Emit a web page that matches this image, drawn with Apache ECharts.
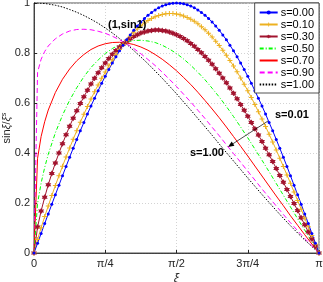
<!DOCTYPE html>
<html><head><meta charset="utf-8">
<script src="https://cdn.jsdelivr.net/npm/echarts@6/dist/echarts.min.js"></script>
<style>html,body{margin:0;padding:0;background:#fff}#c{width:323px;height:282px}</style>
</head><body><div id="c"></div>
<script>
const xTickLabels = ['0','π/4','π/2','3π/4','π'];
const yTickLabels = ['0','0.2','0.4','0.6','0.8','1'];
const seriesNames = ['s=0.00','s=0.10','s=0.30','s=0.50','s=0.70','s=0.90','s=1.00'];

const xiFine = [0,0.0393,0.0785,0.1178,0.1571,0.1963,0.2356,0.2749,0.3142,0.3534,0.3927,0.4320,0.4712,0.5105,0.5498,0.5890,0.6283,0.6676,0.7069,0.7461,0.7854,0.8247,0.8639,0.9032,0.9425,0.9817,1.0210,1.0603,1.0996,1.1388,1.1781,1.2174,1.2566,1.2959,1.3352,1.3744,1.4137,1.4530,1.4923,1.5315,1.5708,1.6101,1.6493,1.6886,1.7279,1.7671,1.8064,1.8457,1.8850,1.9242,1.9635,2.0028,2.0420,2.0813,2.1206,2.1598,2.1991,2.2384,2.2777,2.3169,2.3562,2.3955,2.4347,2.4740,2.5133,2.5525,2.5918,2.6311,2.6704,2.7096,2.7489,2.7882,2.8274,2.8667,2.9060,2.9452,2.9845,3.0238,3.0631,3.1023,3.1416];
const xiCoarse = [0,0.0393,0.0785,0.1178,0.1571,0.2356,0.3142,0.3927,0.4712,0.5498,0.6283,0.7069,0.7854,0.8639,0.9425,1.0210,1.0996,1.1781,1.2566,1.3352,1.4137,1.4923,1.5708,1.6493,1.7279,1.8064,1.8850,1.9635,2.0420,2.1206,2.1991,2.2777,2.3562,2.4347,2.5133,2.5918,2.6704,2.7489,2.8274,2.9060,2.9845,3.0631,3.1416];

const yS000 = [0,0.039,0.078,0.118,0.156,0.195,0.233,0.271,0.309,0.346,0.383,0.419,0.454,0.489,0.522,0.556,0.588,0.619,0.649,0.679,0.707,0.734,0.760,0.785,0.809,0.831,0.853,0.872,0.891,0.908,0.924,0.938,0.951,0.962,0.972,0.981,0.988,0.993,0.997,0.999,1.000,0.999,0.997,0.993,0.988,0.981,0.972,0.962,0.951,0.938,0.924,0.908,0.891,0.872,0.853,0.831,0.809,0.785,0.760,0.734,0.707,0.679,0.649,0.619,0.588,0.556,0.522,0.489,0.454,0.419,0.383,0.346,0.309,0.271,0.233,0.195,0.156,0.118,0.078,0.039,0];
const yS010 = [0,0.054,0.101,0.146,0.188,0.230,0.270,0.309,0.347,0.384,0.420,0.455,0.489,0.523,0.555,0.586,0.616,0.645,0.672,0.699,0.724,0.749,0.772,0.793,0.814,0.833,0.851,0.867,0.883,0.896,0.909,0.920,0.930,0.938,0.945,0.950,0.954,0.957,0.958,0.958,0.956,0.953,0.948,0.942,0.935,0.927,0.917,0.905,0.893,0.879,0.864,0.847,0.830,0.811,0.791,0.770,0.748,0.725,0.700,0.675,0.649,0.622,0.594,0.565,0.536,0.506,0.475,0.444,0.412,0.379,0.346,0.312,0.279,0.244,0.210,0.175,0.140,0.105,0.070,0.035,0];
const yS030 = [0,0.104,0.168,0.223,0.273,0.318,0.360,0.400,0.437,0.473,0.507,0.539,0.569,0.598,0.625,0.651,0.676,0.699,0.721,0.741,0.760,0.778,0.795,0.810,0.824,0.836,0.847,0.857,0.866,0.873,0.880,0.884,0.888,0.890,0.892,0.892,0.890,0.888,0.884,0.879,0.873,0.866,0.858,0.849,0.838,0.827,0.814,0.801,0.786,0.771,0.755,0.737,0.719,0.700,0.681,0.660,0.639,0.617,0.594,0.571,0.547,0.522,0.497,0.472,0.446,0.419,0.393,0.366,0.338,0.310,0.283,0.254,0.226,0.198,0.170,0.141,0.113,0.084,0.056,0.028,0];
const yS050 = [0,0.198,0.280,0.342,0.395,0.481,0.551,0.611,0.661,0.705,0.742,0.772,0.798,0.818,0.833,0.844,0.850,0.851,0.848,0.842,0.831,0.816,0.798,0.776,0.751,0.723,0.693,0.659,0.624,0.586,0.546,0.504,0.461,0.416,0.371,0.325,0.278,0.231,0.184,0.137,0.091,0.045,0];
const yS070 = [0,0.379,0.466,0.525,0.572,0.642,0.695,0.736,0.769,0.794,0.814,0.828,0.837,0.842,0.843,0.840,0.834,0.824,0.811,0.794,0.775,0.753,0.729,0.702,0.674,0.643,0.610,0.576,0.541,0.504,0.466,0.427,0.388,0.348,0.308,0.268,0.228,0.189,0.149,0.111,0.073,0.036,0];
const yS090 = [0,0.723,0.775,0.806,0.828,0.857,0.876,0.888,0.894,0.895,0.893,0.887,0.879,0.867,0.853,0.837,0.818,0.797,0.774,0.750,0.723,0.695,0.666,0.635,0.604,0.571,0.538,0.503,0.469,0.433,0.398,0.363,0.327,0.292,0.256,0.222,0.188,0.154,0.121,0.089,0.058,0.029,0];
const yS100 = [1,0.9997,0.999,0.998,0.996,0.991,0.984,0.974,0.963,0.950,0.935,0.919,0.900,0.880,0.858,0.835,0.810,0.784,0.757,0.728,0.699,0.668,0.637,0.604,0.572,0.538,0.505,0.471,0.436,0.402,0.368,0.334,0.300,0.267,0.234,0.202,0.170,0.139,0.109,0.080,0.052,0.026,0];

const pair = (xs, ys) => xs.map((x, i) => [x, ys[i]]);
const FONT = 'Liberation Sans, Arial, sans-serif';
const plusPath = 'path://M4,0h2v4h4v2h-4v4h-2v-4h-4v-2h4z';
const hexPath = 'path://M5,0L6.44,2.5L9.33,2.5L7.89,5L9.33,7.5L6.44,7.5L5,10L3.56,7.5L0.67,7.5L2.11,5L0.67,2.5L3.56,2.5Z';

const chart = echarts.init(document.getElementById('c'), null, {renderer: 'canvas'});
const mk = (name, xs, ys, color, lineType, symbol, symbolSize) => ({
  name, type: 'line', data: pair(xs, ys), smooth: false,
  symbol: symbol || 'none', symbolSize: symbolSize || 0, showSymbol: !!symbol,
  lineStyle: {color, width: 1, type: lineType || 'solid'},
  itemStyle: {color, borderWidth: 0},
  emphasis: {disabled: true}, z: 2
});
const hasMarker = [true, true, true, false, false, false, false];
chart.setOption({
  animation: false,
  backgroundColor: '#fff',
  grid: {left: 34, right: 4, top: 3, bottom: 29, show: true, borderColor: '#262626', borderWidth: 0.8,
    containLabel: false, outerBoundsMode: 'none'},
  xAxis: {
    type: 'value', min: 0, max: Math.PI, interval: Math.PI / 4,
    axisLine: {lineStyle: {color: '#262626', width: 0.8}},
    axisTick: {inside: true, length: 3, lineStyle: {color: '#262626'}},
    splitLine: {show: true, lineStyle: {color: '#c8c8c8', type: [1, 2], width: 0.8}},
    axisLabel: {fontSize: 11, fontFamily: FONT, color: '#262626', margin: 5,
      formatter: v => xTickLabels[Math.round(v / (Math.PI / 4))], showMaxLabel: true, showMinLabel: true},
    name: 'ξ', nameLocation: 'middle', nameGap: 20, nameMoveOverlap: false,
    nameTextStyle: {fontSize: 12, fontFamily: FONT, fontStyle: 'italic', color: '#262626'}
  },
  yAxis: {
    type: 'value', min: 0, max: 1, interval: 0.2,
    axisLine: {show: true, lineStyle: {color: '#262626', width: 0.8}},
    axisTick: {show: true, inside: true, length: 3, lineStyle: {color: '#262626'}},
    splitLine: {show: true, lineStyle: {color: '#c8c8c8', type: [1, 2], width: 0.8}},
    axisLabel: {fontSize: 11, fontFamily: FONT, color: '#262626', margin: 4,
      formatter: v => yTickLabels[Math.round(v / 0.2)]},
    name: '{n|sin}{i|ξ}{n|/}{i|ξ}{s|s}', nameLocation: 'middle', nameGap: 20, nameRotate: 90, nameMoveOverlap: false,
    nameTextStyle: {color: '#262626', rich: {
      n: {fontSize: 11, fontFamily: FONT, color: '#262626', lineHeight: 14},
      i: {fontSize: 11, fontFamily: FONT, fontStyle: 'italic', color: '#262626', lineHeight: 14},
      s: {fontSize: 8, fontFamily: FONT, fontStyle: 'italic', color: '#262626', verticalAlign: 'top', lineHeight: 14, padding: [0, 0, 6, 0]}
    }}
  },
  legend: {
    orient: 'vertical', right: 4, top: 3, itemWidth: 18, itemHeight: 5, itemGap: 1,
    padding: [4, 5, 3, 4], backgroundColor: '#fff', borderColor: '#262626', borderWidth: 0.8, borderRadius: 0,
    textStyle: {fontSize: 11, fontFamily: FONT, color: '#000', padding: [0, 0, 0, -2]},
    data: seriesNames.map((n, i) => hasMarker[i] ? {name: n} : {name: n, itemStyle: {opacity: 0, color: 'rgba(0,0,0,0)'}})
  },
  series: [
    mk(seriesNames[6], xiCoarse, yS100, '#000000', [1.5, 1.5]),
    mk(seriesNames[5], xiCoarse, yS090, '#ff00ff', [5, 3]),
    mk(seriesNames[4], xiCoarse, yS070, '#ff0000', 'solid'),
    mk(seriesNames[3], xiCoarse, yS050, '#00ff00', [4, 2, 1, 2]),
    mk(seriesNames[2], xiFine, yS030, '#A2142F', 'solid', hexPath, 6),
    mk(seriesNames[1], xiFine, yS010, '#EDB120', 'solid', plusPath, 5),
    mk(seriesNames[0], xiFine, yS000, '#0000ff', 'solid', 'circle', 3)
  ],
  graphic: [
    {type: 'text', left: 108, top: 19, style: {text: '(1,sin1)', font: 'bold 11px ' + FONT, fill: '#000'}, z: 100},
    {type: 'text', left: 275, top: 109, style: {text: 's=0.01', font: 'bold 11px ' + FONT, fill: '#000'}, z: 100},
    {type: 'text', left: 190, top: 147, style: {text: 's=1.00', font: 'bold 11px ' + FONT, fill: '#000'}, z: 100},
    {type: 'line', shape: {x1: 268, y1: 121, x2: 231, y2: 145}, style: {stroke: '#000', lineWidth: 0.7}, z: 100},
    {type: 'polygon', shape: {points: [[228, 147], [234.4, 145.8], [231.7, 141.6]]}, style: {fill: '#000'}, z: 100}
  ]
});
</script></body></html>
